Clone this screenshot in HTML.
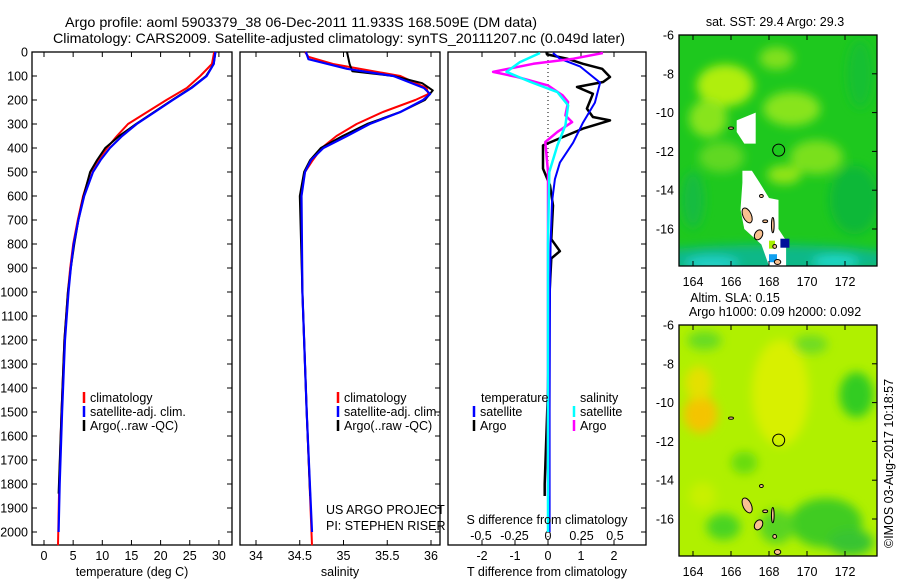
<!DOCTYPE html>
<html><head><meta charset="utf-8"><style>
html,body{margin:0;padding:0;background:#fff;}
svg{display:block;font-family:"Liberation Sans",sans-serif;}
</style></head><body>
<svg id="fig" width="900" height="580" viewBox="0 0 900 580" xmlns="http://www.w3.org/2000/svg">
<defs>
<clipPath id="c1"><rect x="679" y="35" width="198" height="231"/></clipPath>
<clipPath id="c2"><rect x="679" y="325" width="198" height="231"/></clipPath>
<filter id="bl" x="-50%" y="-50%" width="200%" height="200%"><feGaussianBlur stdDeviation="5"/></filter>
</defs>
<text x="65" y="27" font-size="14" textLength="472" lengthAdjust="spacingAndGlyphs">Argo profile: aoml 5903379_38 06-Dec-2011 11.933S 168.509E (DM data)</text>
<text x="53" y="43" font-size="14" textLength="572" lengthAdjust="spacingAndGlyphs">Climatology: CARS2009. Satellite-adjusted climatology: synTS_20111207.nc (0.049d later)</text>
<g id="plots"></g>
<g id="maps"></g>
<text font-size="12.5" transform="translate(893,548) rotate(-90)">©IMOS 03-Aug-2017 10:18:57</text>
</svg>
<script>
// ---------- profile data ----------
const depthTicks = [0,100,200,300,400,500,600,700,800,900,1000,1100,1200,1300,1400,1500,1600,1700,1800,1900,2000];
const tempTicks = [0,5,10,15,20,25,30];
const salTicks = [34,34.5,35,35.5,36];
const tdiffTicks = [-2,-1,0,1,2];
const sdiffTicks = [-0.5,-0.25,0,0.25,0.5];

const tClimDepth = [0,50,100,150,200,250,300,350,400,450,500,600,700,800,900,1000,1200,1500,1800,2055];
const tClim      = [29.2,28.8,26.8,24.5,21,17.7,14.4,12.5,10.8,9.3,8,6.7,5.8,5,4.5,4.1,3.5,3.0,2.6,2.4];
const tSatDepth  = [0,50,100,150,200,250,300,350,400,450,500,600,700,800,900,1000,1200,1500,1800,2000];
const tSat       = [29.4,29.1,27.9,25.3,22.1,19,15.9,13.4,11.3,9.7,8.4,6.9,5.9,5.1,4.6,4.2,3.6,3.1,2.7,2.5];
const tArgoDepth = [0,50,100,150,200,250,300,350,400,450,500,600,700,800,900,1000,1200,1500,1840];
const tArgo      = [29.4,29.1,27.8,25.2,22,18.9,15.8,12.9,10.5,9.1,7.9,6.8,5.9,5.2,4.6,4.1,3.5,3.0,2.5];

const sClimDepth = [0,20,50,100,150,175,200,250,300,350,400,450,500,600,1000,1500,2055];
const sClim      = [34.56,34.6,34.88,35.65,35.95,35.97,35.82,35.45,35.15,34.92,34.75,34.65,34.56,34.51,34.53,34.58,34.64];
const sSatDepth  = [0,30,70,100,150,175,200,250,300,350,400,450,500,600,1000,1500,2000];
const sSat       = [34.57,34.6,35.04,35.57,35.92,35.99,35.91,35.65,35.3,35.04,34.77,34.63,34.56,34.52,34.53,34.58,34.64];
const sArgoDepth = [0,50,80,100,130,160,200,250,300,350,400,450,500,600,1000,1500,1850];
const sArgo      = [35.04,35.07,35.1,35.57,35.9,36.02,35.93,35.65,35.27,34.99,34.74,34.62,34.55,34.5,34.53,34.58,34.62];

const dTSatDepth = [4,28,60,100,128,211,294,378,461,530,625,800,1000,1500,2000];
const dTSat      = [0.15,0.36,0.97,1.33,1.58,1.42,1.06,0.76,0.36,0.21,0.12,0.08,0.06,0.05,0.05];
const dTArgoDepth= [0,10,28,49,70,104,125,146,174,236,271,285,319,354,389,486,556,640,780,830,860,1000,1400,1800,1850];
const dTArgo     = [-0.05,-0.03,0.58,1.06,1.64,1.88,1.67,0.88,1.36,1.18,1.36,1.88,1.06,0.45,-0.15,-0.15,0.06,0.15,0.1,0.36,0.1,0.05,0,-0.1,-0.1];
const dSArgoDepth= [4,28,49,83,104,139,181,208,264,292,333,375,500,800,1200,1850];
const dSArgo     = [0.41,0.19,-0.11,-0.41,-0.23,0,0.11,0.15,0.13,0.18,0.07,-0.02,0,0,0,0];
const dSSatDepth = [4,42,83,125,167,222,306,389,500,800,1200,2000];
const dSSat      = [-0.06,-0.21,-0.31,-0.13,0.07,0.15,0.13,0.07,0.01,0,0,0];

// ---------- map data ----------
const lonTicks = [164,166,168,170,172];
const latTicks = [-6,-8,-10,-12,-14,-16];
const argoLon = 168.509, argoLat = -11.933;

const NS='http://www.w3.org/2000/svg';
const plots=document.getElementById('plots');
const maps=document.getElementById('maps');
function mk(tag,attrs,parent,txt){const e=document.createElementNS(NS,tag);for(const k in attrs)e.setAttribute(k,attrs[k]);if(txt!==undefined)e.textContent=txt;(parent||plots).appendChild(e);return e;}

const Y0=52, DY=0.24, PB=545;
const yD=d=>Y0+d*DY;
const panels=[
 {name:'temperature',x0:32,x1:232,f:v=>44+v*5.83},
 {name:'salinity',x0:240,x1:440,f:v=>256+(v-34)*87.5},
 {name:'difference',x0:448,x1:646,f:v=>548+v*33}
];
const sx=v=>548+v*134;

panels.forEach((p,i)=>{
  const g=mk('g',{},plots);
  
  
  const r=mk('rect',{x:p.x0,y:Y0,width:p.x1-p.x0,height:PB-Y0,fill:'none',stroke:'#000','stroke-width':1.3},g);
  
  
  depthTicks.forEach(d=>{
    mk('line',{x1:p.x1-5,x2:p.x1,y1:yD(d),y2:yD(d),stroke:'#000'},g);
    if(i===0)mk('line',{x1:p.x0,x2:p.x0+5,y1:yD(d),y2:yD(d),stroke:'#000'},g);
  });
  p.g=g;
});
depthTicks.forEach(d=>{
  const t=mk('text',{x:28,y:yD(d)+4.5,'font-size':12.5,'text-anchor':'end'},plots,String(d));
  
  
});
function xticks(p,ticks,fx,ly,fmt,top){
  ticks.forEach(v=>{
    const x=fx(v);
    if(top){mk('line',{x1:x,x2:x,y1:Y0,y2:Y0+5,stroke:'#000'},p.g);mk('line',{x1:x,x2:x,y1:PB-5,y2:PB,stroke:'#000'},p.g);}
    const t=mk('text',{x:x,y:ly,'font-size':12.5,'text-anchor':'middle'},p.g,fmt(v));
    
    
  });
}
xticks(panels[0],tempTicks,panels[0].f,560,String,true);
xticks(panels[1],salTicks,panels[1].f,560,String,true);
xticks(panels[2],tdiffTicks,panels[2].f,560,String,true);
xticks(panels[2],sdiffTicks,sx,540,String,false);
[['temperature (deg C)',132,576,'temperature-axis-title'],['salinity',340,576,'salinity-axis-title'],['T difference from climatology',547,576,'t-diff-axis-title'],['S difference from climatology',547,524,'s-diff-axis-title']].forEach(a=>{
  const t=mk('text',{x:a[1],y:a[2],'font-size':12.5,'text-anchor':'middle'},plots,a[0]);
  
  
});
const zl=mk('line',{x1:548,x2:548,y1:Y0,y2:PB,stroke:'#000','stroke-dasharray':'1 3'},panels[2].g);



function series(p,depths,vals,fx,color,w,name){
  const pts=depths.map((d,k)=>fx(vals[k]).toFixed(1)+','+yD(d).toFixed(1)).join(' ');
  const pl=mk('polyline',{points:pts,fill:'none',stroke:color,'stroke-width':w,'stroke-linejoin':'round'},p.g);
  
  
}
const P=panels;
series(P[0],tClimDepth,tClim,P[0].f,'#f00',2,'temp-climatology-line');
series(P[0],tArgoDepth,tArgo,P[0].f,'#000',2,'temp-argo-line');
series(P[0],tSatDepth,tSat,P[0].f,'#00f',2.2,'temp-satellite-line');
series(P[1],sClimDepth,sClim,P[1].f,'#f00',2,'sal-climatology-line');
series(P[1],sArgoDepth,sArgo,P[1].f,'#000',2,'sal-argo-line');
series(P[1],sSatDepth,sSat,P[1].f,'#00f',2.2,'sal-satellite-line');
series(P[2],dTArgoDepth,dTArgo,P[2].f,'#000',2.5,'tdiff-argo-line');
series(P[2],dTSatDepth,dTSat,P[2].f,'#00f',2,'tdiff-satellite-line');
series(P[2],dSArgoDepth,dSArgo,sx,'#f0f',2.5,'sdiff-argo-line');
series(P[2],dSSatDepth,dSSat,sx,'#0ff',2.5,'sdiff-satellite-line');

function legend(x,y,color,label,g){
  const e=mk('g',{},g);
  
  
  mk('line',{x1:x,x2:x,y1:y-10,y2:y+1,stroke:color,'stroke-width':2.5},e);
  mk('text',{x:x+6,y:y,'font-size':12.5},e,label);
}
[[84,P[0]],[338,P[1]]].forEach(a=>{
  legend(a[0],402,'#f00','climatology',a[1].g);
  legend(a[0],416,'#00f','satellite-adj. clim.',a[1].g);
  legend(a[0],430,'#000','Argo(..raw -QC)',a[1].g);
});
mk('text',{x:481,y:402,'font-size':12.5},P[2].g,'temperature');
mk('text',{x:580,y:402,'font-size':12.5},P[2].g,'salinity');
legend(474,416,'#00f','satellite',P[2].g);
legend(474,430,'#000','Argo',P[2].g);
legend(574,416,'#0ff','satellite',P[2].g);
legend(574,430,'#f0f','Argo',P[2].g);
const pr1=mk('text',{x:326,y:514,'font-size':12.5},P[1].g,'US ARGO PROJECT');


const pr2=mk('text',{x:326,y:530,'font-size':12.5},P[1].g,'PI: STEPHEN RISER');



// ---------- maps ----------
function buildMap(top,clip,base,blobs,island,title){
  const mx=lon=>693+(lon-164)*19, my=lat=>top+(-6-lat)*19.4;
  const g=mk('g',{},maps);
  
  
  const f=mk('g',{'clip-path':'url(#'+clip+')'},g);
  mk('rect',{x:679,y:top,width:198,height:231,fill:base},f);
  const bg=mk('g',{filter:'url(#bl)'},f);
  blobs.forEach(b=>mk('ellipse',{cx:mx(b[0]),cy:my(b[1]),rx:b[2]*19,ry:b[3]*19,fill:b[4]},bg));
  if(island){
    const wp=[[166.3,-10.4],[167.3,-10],[167.3,-11.6],[166.7,-11.6],[166.3,-11.0]];
    const wp2=[[166.6,-13],[167.1,-13],[167.5,-13.6],[168,-14.4],[168.5,-14.5],[168.5,-16],[168.9,-16.6],[168.9,-17.9],[168,-17.9],[167.6,-16.8],[166.7,-16.0],[166.5,-15.0],[166.6,-13.6]];
    [wp,wp2].forEach(pp=>mk('polygon',{points:pp.map(q=>mx(q[0])+','+my(q[1])).join(' '),fill:'#fff'},f));
    mk('rect',{x:mx(168.6),y:my(-16.5),width:9,height:9,fill:'#00109a'},f);
    mk('rect',{x:mx(168),y:my(-16.6),width:6,height:8,fill:'#a8f000'},f);
    mk('rect',{x:mx(168),y:my(-17.3),width:8,height:8,fill:'#10a0f0'},f);
  }
  const isl=[[166.85,-15.3,0.22,0.42,-25],[167.45,-16.3,0.2,0.28,30],[168.45,-17.7,0.17,0.13,0],[168.2,-15.8,0.07,0.4,0],[167.8,-15.6,0.13,0.07,0],[168.3,-16.9,0.1,0.1,0],[167.6,-14.3,0.1,0.08,0],[166.0,-10.8,0.13,0.06,0]];
  isl.forEach(s=>{const e=mk('ellipse',{cx:mx(s[0]),cy:my(s[1]),rx:s[2]*19,ry:s[3]*19,fill:'#f8c090',stroke:'#000','stroke-width':1,transform:'rotate('+s[4]+' '+mx(s[0])+' '+my(s[1])+')'},f);
    
    });
  const c=mk('circle',{cx:mx(argoLon),cy:my(argoLat),r:6,fill:'none',stroke:'#000','stroke-width':1},g);
  
  
  mk('rect',{x:679,y:top,width:198,height:231,fill:'none',stroke:'#000','stroke-width':1.3},g);
  lonTicks.forEach(l=>{const x=mx(l);
    mk('line',{x1:x,x2:x,y1:top,y2:top+5,stroke:'#000'},g);
    mk('line',{x1:x,x2:x,y1:top+226,y2:top+231,stroke:'#000'},g);
    const t=mk('text',{x:x,y:top+251,'font-size':12.5,'text-anchor':'middle'},g,String(l));
    
    });
  latTicks.forEach(l=>{const y=my(l);
    mk('line',{x1:872,x2:877,y1:y,y2:y,stroke:'#000'},g);
    const t=mk('text',{x:674,y:y+4.5,'font-size':12.5,'text-anchor':'end'},g,String(l));
    
    });
}
buildMap(35,'c1','#1ec81e',[
 [165.7,-8.6,1.5,1.1,'#b0ee10'],[164.8,-10.3,1.0,1.0,'#88e41c'],[169.2,-9.8,1.5,0.9,'#88e41c'],[170.5,-12.3,1.4,0.9,'#7ae01c'],
 [168.4,-7.2,0.9,0.6,'#80e01c'],[165.5,-12.3,1.2,0.8,'#60d824'],[168.8,-13.2,0.9,0.5,'#90e418'],[172.5,-14.5,1.3,1.8,'#10b838'],
 [168,-17.6,7,0.8,'#10b888'],[165,-17.8,1.4,0.4,'#20d0c8'],[171.5,-17.7,1.2,0.35,'#20d8c8'],[172.8,-8,0.7,1.8,'#14c030'],
 [164,-14.5,0.6,1.5,'#14bc40']
],true,'sst-map');
buildMap(325,'c2','#b0f000',[
 [168.6,-9.5,1.5,2.8,'#d8f000'],[164.4,-10.6,0.9,1.0,'#f4c400'],[164.3,-9,0.7,0.9,'#e4e000'],[172.6,-9.6,0.9,1.2,'#30cc20'],[171,-16.2,1.9,1.3,'#40cc20'],
 [172.3,-17.2,1.2,0.7,'#38c430'],[165.6,-16.4,0.9,0.7,'#48d420'],[166.7,-13.1,0.7,0.6,'#68dc10'],[164.6,-6.8,0.9,0.5,'#68dc20'],[170.2,-7,0.9,0.5,'#70dc20'],
 [168.4,-16.4,0.9,0.9,'#58d420'],[164.5,-14.8,0.7,0.7,'#c8f000']
],false,'sla-map');
[['sat. SST: 29.4 Argo: 29.3',775,26,'sst-map-title'],['Altim. SLA: 0.15',735,302,'sla-map-title'],['Argo h1000: 0.09 h2000: 0.092',775,316,'argo-height-title']].forEach(a=>{
  const t=mk('text',{x:a[1],y:a[2],'font-size':12.5,'text-anchor':'middle'},maps,a[0]);
  
  
});
</script>
</body></html>
